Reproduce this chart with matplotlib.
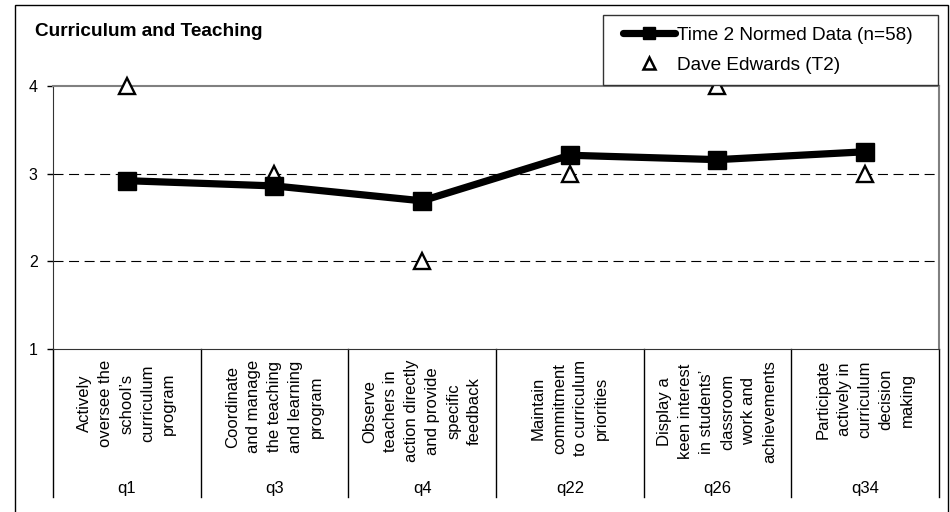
import matplotlib
matplotlib.use("Agg")
import matplotlib.pyplot as plt
from matplotlib.patches import Rectangle
import matplotlib.transforms as mtransforms

plt.rcParams['font.family'] = ['Liberation Sans', 'DejaVu Sans']

# ---- data ----
codes = ["q1", "q3", "q4", "q22", "q26", "q34"]
descriptions = [
    "Actively\noversee the\nschool\u2019s\ncurriculum\nprogram",
    "Coordinate\nand manage\nthe teaching\nand learning\nprogram",
    "Observe\nteachers in\naction directly\nand provide\nspecific\nfeedback",
    "Maintain\ncommitment\nto curriculum\npriorities",
    "Display a\nkeen interest\nin students\u2019\nclassroom\nwork and\nachievements",
    "Participate\nactively in\ncurriculum\ndecision\nmaking",
]
normed = [2.92, 2.86, 2.69, 3.21, 3.16, 3.25]
individual = [4, 3, 2, 3, 4, 3]
yticks = [1, 2, 3, 4]
title = "Curriculum and Teaching"
series_names = ["Time 2 Normed Data (n=58)", "Dave Edwards (T2)"]

W, H = 950, 512
fig = plt.figure(figsize=(W / 100, H / 100), dpi=100)

# outer frame
fig.patches.append(Rectangle((15 / W, -0.01), (948 - 15) / W, 1 - 5 / H + 0.01,
                             transform=fig.transFigure, fill=False,
                             edgecolor='black', linewidth=1.0))

left, right, top, bottom = 53, 939, 86, 349
ax = fig.add_axes([left / W, 1 - bottom / H, (right - left) / W, (bottom - top) / H])

x = list(range(len(codes)))
ax.set_xlim(-0.5, len(codes) - 0.5)
ax.set_ylim(1, 4)
ax.set_yticks(yticks)
ax.set_yticklabels([str(v) for v in yticks], fontsize=11.5)
ax.tick_params(axis='y', length=4, width=1, pad=7, colors='black')
ax.set_xticks([])

for s in ['top', 'right']:
    ax.spines[s].set_color('#808080')
    ax.spines[s].set_linewidth(1.5)
ax.spines['left'].set_color('#333333')
ax.spines['bottom'].set_color('#333333')

for g in [2, 3]:
    ax.axhline(g, color='black', linewidth=0.8, linestyle=(0, (9, 5)), zorder=1)

ax.plot(x, individual, linestyle='none', marker='^', markersize=11.5,
        markerfacecolor='white', markeredgecolor='black', markeredgewidth=1.7,
        clip_on=False, zorder=3, label=series_names[1])
ax.plot(x, normed, color='black', linewidth=5.2, marker='s', markersize=12.5,
        markerfacecolor='black', markeredgecolor='black',
        clip_on=False, zorder=4, label=series_names[0])

# category region
trans = mtransforms.blended_transform_factory(ax.transData, ax.transAxes)
ybot = -(497 - bottom) / (bottom - top)
for b in range(len(codes) + 1):
    ax.plot([b - 0.5, b - 0.5], [0, ybot], color='black', linewidth=1,
            transform=trans, clip_on=False)
ytext = -(360 - bottom) / (bottom - top)
ycode = -(488 - bottom) / (bottom - top)
for i, (d, c) in enumerate(zip(descriptions, codes)):
    ax.text(i, ytext, d, transform=trans, rotation=90, ha='center', va='top',
            multialignment='center', fontsize=12, linespacing=1.5)
    ax.text(i, ycode, c, transform=trans, ha='center', va='center', fontsize=12)

fig.text(35 / W, 1 - 31 / H, title, fontsize=13.7, fontweight='bold',
         ha='left', va='center')

# legend
box = Rectangle((603 / W, 1 - 85 / H), (938 - 603) / W, 70 / H,
                transform=fig.transFigure, facecolor='white',
                edgecolor='#333333', linewidth=1.0, zorder=9)
fig.patches.append(box)
handles, labels = ax.get_legend_handles_labels()
leg = fig.legend(handles[::-1], labels[::-1], loc='center left',
                 bbox_to_anchor=(623 / W, 1 - 50 / H), bbox_transform=fig.transFigure,
                 fontsize=13.7, frameon=False, borderaxespad=0, borderpad=0,
                 handlelength=2.75, handletextpad=0.1,
                 labelspacing=0.68, numpoints=1)
leg.set_zorder(10)
lh = leg.legend_handles
lh[0].set_markersize(9)
lh[0].set_solid_capstyle('round')
lh[1].set_markersize(9)
lh[1].set_markeredgewidth(1.8)

fig.savefig("out.png", dpi=100)
